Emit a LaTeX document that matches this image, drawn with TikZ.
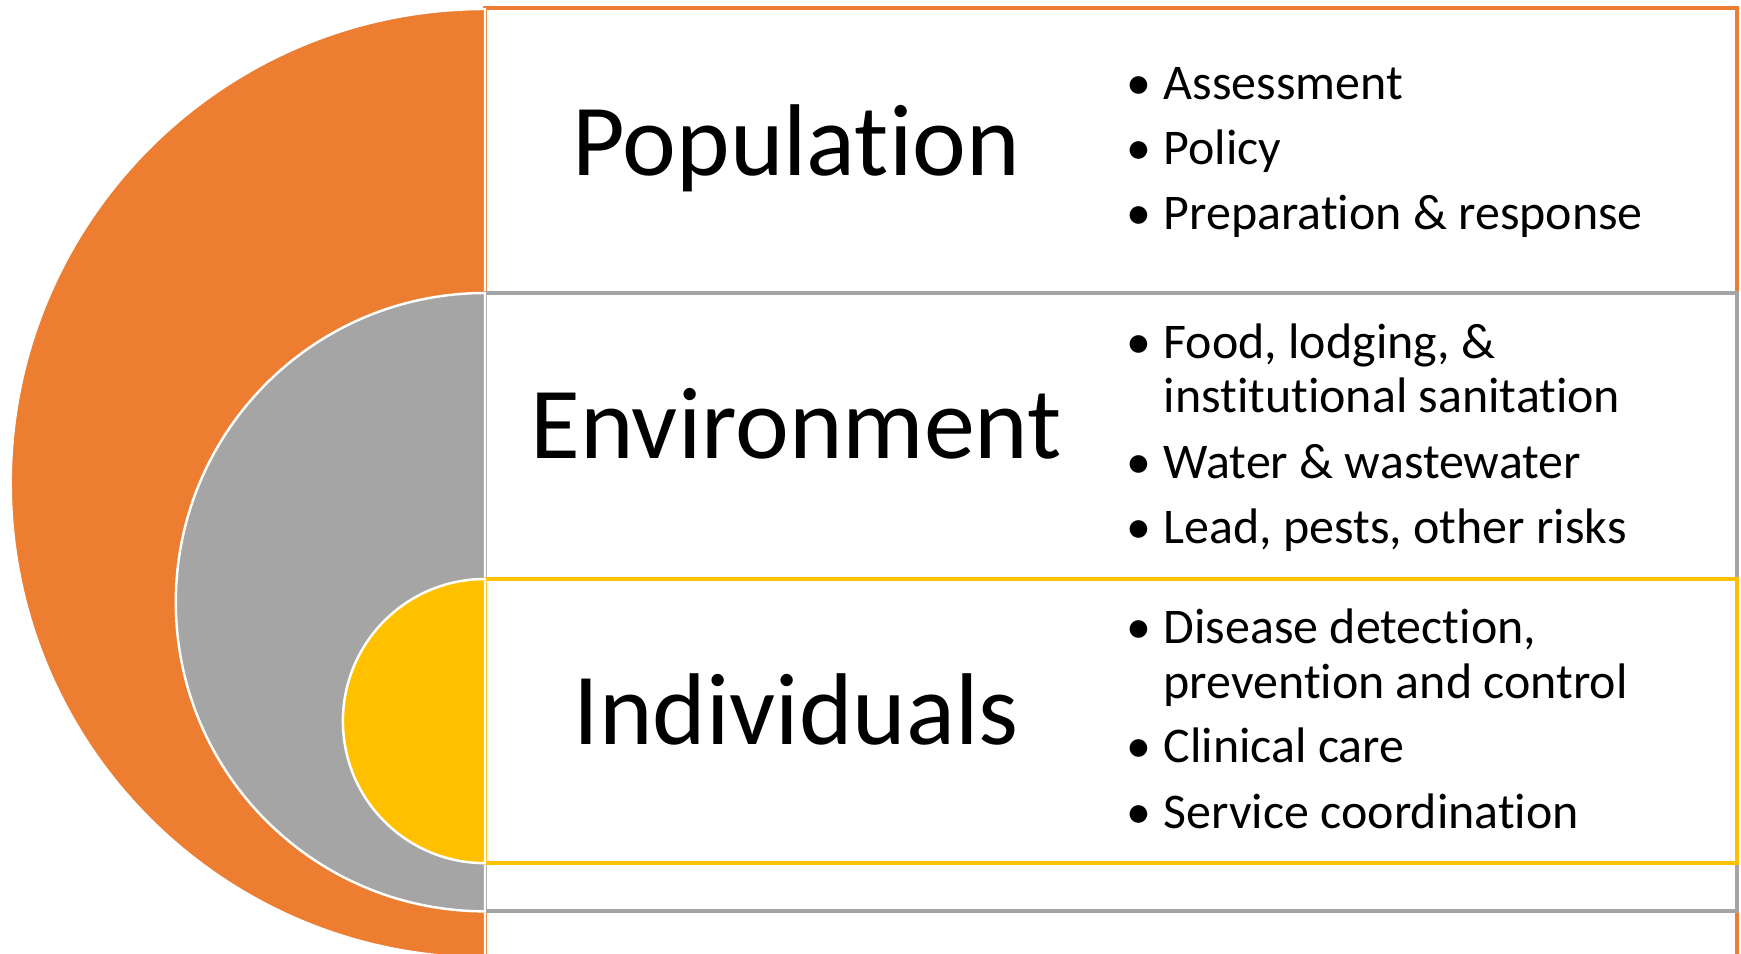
\documentclass[tikz,border=0pt]{standalone}
\usepackage{fontspec}
\setmainfont{Carlito}[RawFeature=-liga]
\definecolor{popOrange}{HTML}{ED7D31}
\definecolor{envGray}{HTML}{A5A5A5}
\definecolor{indYellow}{HTML}{FFC000}
\tikzset{
  band/.style={draw=#1, fill=white, line width=1pt},
  halfdisc/.style={fill=#1, draw=white, line width=0.7pt},
  level/.style={font=\fontsize{29}{35}\selectfont, anchor=base, inner sep=0pt},
  item/.style={font=\fontsize{14.2}{17}\selectfont, anchor=base west, inner sep=0pt},
}
\newcommand{\bul}{\llap{\makebox[0.5cm][c]{\textbullet}}}

\begin{document}
\begin{tikzpicture}[x=0.01cm, y=0.01cm]
  \clip (0,0) rectangle (1741,954);
  % Population: outer band and half disc
  \draw[band=popOrange] (485,-20) rectangle (1737,946);
  \filldraw[halfdisc=popOrange] (485,945) arc[start angle=90, end angle=270, radius=4.74cm] -- cycle;
  % Environment
  \draw[band=envGray] (485,43) rectangle (1737,661);
  \filldraw[halfdisc=envGray] (485,661) arc[start angle=90, end angle=270, radius=3.09cm] -- cycle;
  % Individuals
  \draw[band=indYellow] (485,91) rectangle (1737,375);
  \filldraw[halfdisc=indYellow] (485,375) arc[start angle=90, end angle=270, radius=1.42cm] -- cycle;

  % level names
  \node[level] (pop) at (796,778) {Population};
  \node[level] (env) at (796,495) {Environment};
  \node[level] (ind) at (796,209) {Individuals};

  % bullet lists
  \node[item] (pop1) at (1163,854) {\bul Assessment};
  \node[item] (pop2) at (1163,789) {\bul Policy};
  \node[item] (pop3) at (1163,724) {\bul Preparation \& response};

  \node[item] (env1) at (1163,595) {\bul Food, lodging, \&};
  \node[item] (env1b) at (1163,541) {institutional sanitation};
  \node[item] (env2) at (1163,475) {\bul Water \& wastewater};
  \node[item] (env3) at (1163,410) {\bul Lead, pests, other risks};

  \node[item] (ind1) at (1163,310) {\bul Disease detection,};
  \node[item] (ind1b) at (1163,255) {prevention and control};
  \node[item] (ind2) at (1163,191) {\bul Clinical care};
  \node[item] (ind3) at (1163,125) {\bul Service coordination};
\end{tikzpicture}
\end{document}
